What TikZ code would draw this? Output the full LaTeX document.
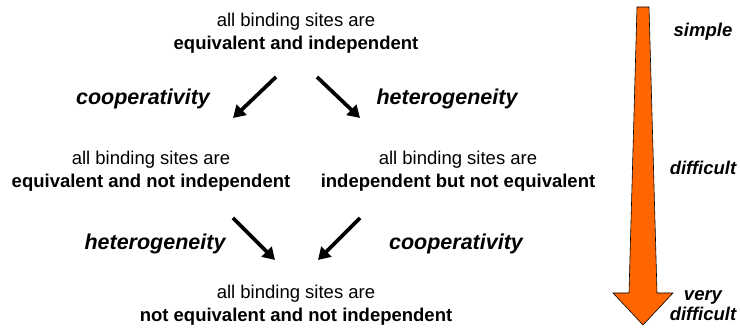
\documentclass[tikz,border=0pt]{standalone}
\usepackage{fontspec}
\setmainfont{Liberation Sans}
\usetikzlibrary{arrows.meta}

\definecolor{levelorange}{HTML}{FF6600}

\begin{document}
\begin{tikzpicture}[x=1pt,y=-1pt,->,>={Triangle[length=12pt,width=14pt]},line width=3.7pt,
	state node/.style={align=center,inner sep=0pt,font=\fontsize{18.5}{23.5}\selectfont},
	rule node/.style={inner sep=0pt,font=\fontsize{21.5}{26}\selectfont\bfseries\itshape},
	level node/.style={align=center,inner sep=0pt,font=\fontsize{18.5}{20}\selectfont\bfseries\itshape}]

	\useasboundingbox (0,0) rectangle (740,328);

	\node[state node] (ei) at (296,33) {all binding sites are\\\textbf{equivalent and independent}};
	\node[state node] (eni) at (151,171) {all binding sites are\\\textbf{equivalent and not independent}};
	\node[state node] (ine) at (458,171) {all binding sites are\\\textbf{independent but not equivalent}};
	\node[state node] (nn) at (296,305) {all binding sites are\\\textbf{not equivalent and not independent}};

	\node[rule node] (coop1) at (143,99) {cooperativity};
	\node[rule node] (het1) at (447,99) {heterogeneity};
	\node[rule node] (het2) at (155,244) {heterogeneity};
	\node[rule node] (coop2) at (456,244) {cooperativity};

	% arrow ends
	\coordinate (ei-l) at (276,77);
	\coordinate (ei-r) at (317,77);
	\coordinate (eni-t) at (233,118);
	\coordinate (ine-t) at (360,118);
	\coordinate (eni-b) at (233,218);
	\coordinate (ine-b) at (360,218);
	\coordinate (nn-l) at (275,260);
	\coordinate (nn-r) at (318,260);

	\path
		(ei-l) edge (eni-t)
		(ei-r) edge (ine-t)
		(eni-b) edge (nn-l)
		(ine-b) edge (nn-r);

	% difficulty scale
	\filldraw[-,fill=levelorange,draw=black,line width=0.6pt]
		(637,7) -- (649,7) -- (657,293) -- (673,293) -- (643,325)
		-- (613,293) -- (629,293) -- cycle;
	\node[level node] (simple) at (703,32) {simple};
	\node[level node] (difficult) at (703,168) {difficult};
	\node[level node] (vdifficult) at (703,306) {very\\difficult};

\end{tikzpicture}
\end{document}
